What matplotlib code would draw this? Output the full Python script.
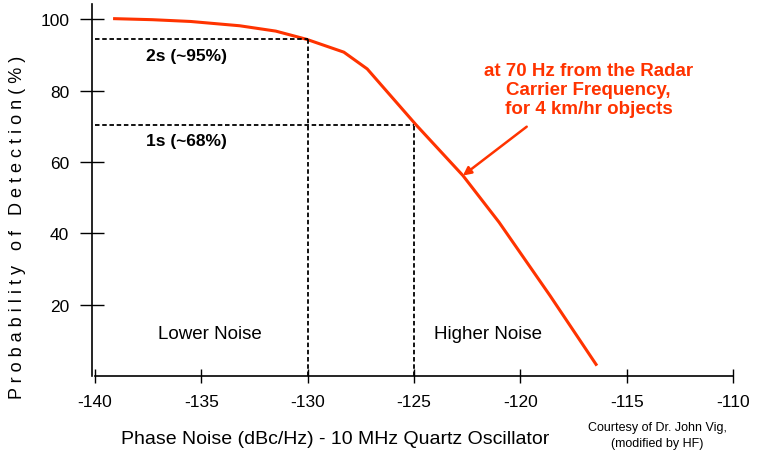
import numpy as np
import matplotlib.pyplot as plt

plt.rcParams['font.family'] = ['Liberation Sans', 'DejaVu Sans']

# curve
noise = [-139.15, -137.3, -135.5, -133.2, -131.5, -130.05, -128.3, -127.2,
         -126.6, -124.9, -122.7, -121.0, -118.6, -116.4]
prob = [100.2, 99.9, 99.4, 98.2, 96.7, 94.4, 90.8, 86.1,
        82.0, 70.4, 56.2, 43.1, 22.5, 2.9]

sigma_noise = [-130, -125]
sigma_prob = [94.4, 70.4]
sigma_labels = ['2s (~95%)', '1s (~68%)']

xticks = [-140, -135, -130, -125, -120, -115, -110]
yticks = [20, 40, 60, 80, 100]

red = '#FF3300'

fig = plt.figure(figsize=(7.58, 4.56), dpi=100)
ax = fig.add_axes([95 / 758, 79 / 456, 638 / 758, 372 / 456])

ax.plot(noise, prob, color=red, lw=2.2, solid_capstyle='butt',
        solid_joinstyle='round')

# dashed sigma guides
for xn, yp in zip(sigma_noise, sigma_prob):
    ax.plot([-140, xn], [yp, yp], color='black', lw=1.3, ls=(0, (2.5, 1.5)))
    ax.plot([xn, xn], [0, yp], color='black', lw=1.3, ls=(0, (2.5, 1.5)))

ax.text(-135.7, 89.8, sigma_labels[0], ha='center', va='center',
        fontsize=12.5, fontweight='bold')
ax.text(-135.7, 65.9, sigma_labels[1], ha='center', va='center',
        fontsize=12.5, fontweight='bold')

ax.text(-134.6, 12.0, 'Lower Noise', ha='center', va='center', fontsize=13.5)
ax.text(-121.5, 12.0, 'Higher Noise', ha='center', va='center', fontsize=13.5)

ax.text(-116.8, 80.4, 'at 70 Hz from the Radar\nCarrier Frequency,\nfor 4 km/hr objects',
        ha='center', va='center', fontsize=13.5, fontweight='bold', color=red,
        linespacing=1.15)
ax.annotate('', xy=(-122.7, 56.2), xytext=(-119.7, 69.9),
            arrowprops=dict(arrowstyle='-|>', color=red, lw=1.8,
                            mutation_scale=12, shrinkA=0, shrinkB=0))

ax.set_xlim(-140, -110)
ax.set_ylim(0, 104.3)
ax.set_xticks(xticks)
ax.set_yticks(yticks)
ax.set_xticklabels([str(v) for v in xticks])
ax.set_yticklabels([str(v) for v in yticks])
ax.tick_params(axis='x', direction='inout', length=10, width=1, pad=8, labelsize=12.5)
ax.tick_params(axis='y', direction='inout', length=17, width=1, pad=8, labelsize=12.5)

for side in ['top', 'right']:
    ax.spines[side].set_visible(False)
ax.spines['left'].set_position(('outward', 2))
ax.spines['bottom'].set_linewidth(1.2)
ax.spines['left'].set_linewidth(1.2)

fig.text(335 / 758, 1 - 440 / 456, 'Phase Noise (dBc/Hz) - 10 MHz Quartz Oscillator',
         ha='center', va='center', fontsize=14)
fig.text(18 / 758, 1 - 227 / 456,
         'P r o b a b i l i t y   o f   D e t e c t i o n ( % )',
         rotation=90, ha='center', va='center', fontsize=13)

fig.text(657 / 758, 1 - 428 / 456, 'Courtesy of Dr. John Vig,',
         ha='center', va='center', fontsize=9)
fig.text(657 / 758, 1 - 444 / 456, '(modified by HF)',
         ha='center', va='center', fontsize=9)

fig.savefig('out.png', dpi=100)
